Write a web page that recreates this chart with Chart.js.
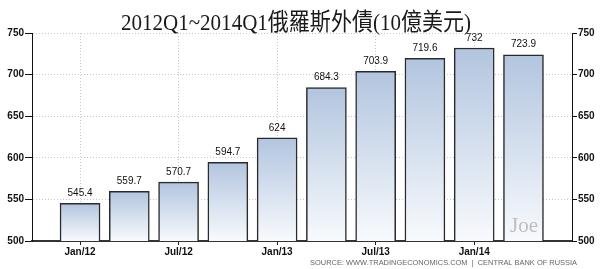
<!DOCTYPE html>
<html>
<head>
<meta charset="utf-8">
<script src="https://cdn.jsdelivr.net/npm/chart.js@4"></script>
<style>
  body { margin: 0; background: #fff; }
</style>
</head>
<body>
<canvas id="debtChart" width="600" height="269"></canvas>
<script>
const quarters = ['2012Q1', '2012Q2', '2012Q3', '2012Q4', '2013Q1', '2013Q2', '2013Q3', '2013Q4', '2014Q1', '2014Q2'];
const debtValues = [545.4, 559.7, 570.7, 594.7, 624, 684.3, 703.9, 719.6, 732, 723.9];
const tickPositions = [0, 2, 4, 6, 8];
const tickLabels = ['Jan/12', 'Jul/12', 'Jan/13', 'Jul/13', 'Jan/14'];
const titleText = '2012Q1~2014Q1俄羅斯外債(10億美元)';
const sourceText = 'SOURCE: WWW.TRADINGECONOMICS.COM  |  CENTRAL BANK OF RUSSIA';

const tickFont = { family: '"Liberation Sans", Arial, sans-serif', size: 10, weight: 'bold' };

const barGradient = (context) => {
    const chart = context.chart;
    const area = chart.chartArea;
    if (!area || context.raw == null) return '#c8d6e8';
    const top = chart.scales.y.getPixelForValue(context.raw.y);
    const g = chart.ctx.createLinearGradient(0, top, 0, area.bottom);
    g.addColorStop(0, '#b2c5df');
    g.addColorStop(1, '#f8fafd');
    return g;
};

const extras = {
    id: 'extras',
    afterDatasetsDraw(chart) {
        const ctx = chart.ctx;
        ctx.save();
        // value labels
        ctx.fillStyle = '#111';
        ctx.font = '10px "Liberation Sans", Arial, sans-serif';
        ctx.textAlign = 'center';
        ctx.textBaseline = 'middle';
        chart.getDatasetMeta(0).data.forEach((bar, i) => {
            ctx.fillText(String(debtValues[i]), bar.x, bar.y - 10);
        });
        // watermark
        ctx.fillStyle = '#bdbdbd';
        ctx.font = '21px "Liberation Serif", serif';
        ctx.fillText('Joe', 524, 226);
        ctx.restore();
    },
    afterDraw(chart) {
        const ctx = chart.ctx;
        ctx.save();
        // title
        ctx.fillStyle = '#1a1a1a';
        ctx.font = '24px "Liberation Serif", "Noto Sans CJK TC", serif';
        ctx.textAlign = 'center';
        ctx.textBaseline = 'alphabetic';
        const w = ctx.measureText(titleText).width;
        ctx.translate(296, 30);
        ctx.scale(Math.min(1, 350 / w), 1);
        ctx.fillText(titleText, 0, 0);
        ctx.restore();
        // source line
        ctx.save();
        ctx.fillStyle = '#666';
        ctx.font = '7.5px "Liberation Sans", Arial, sans-serif';
        ctx.textAlign = 'right';
        ctx.textBaseline = 'middle';
        const sw = ctx.measureText(sourceText).width;
        ctx.translate(577, 263);
        ctx.scale(267 / sw, 1);
        ctx.fillText(sourceText, 0, 0);
        ctx.restore();
    }
};

new Chart(document.getElementById('debtChart'), {
    type: 'bar',
    data: {
        labels: quarters,
        datasets: [{
            label: 'External debt',
            data: debtValues.map((v, i) => ({ x: i, y: v })),
            backgroundColor: barGradient,
            borderColor: '#2a2a2a',
            borderWidth: 1.5,
            barThickness: 40
        }]
    },
    options: {
        responsive: false,
        animation: false,
        layout: { padding: { top: 33, left: 0, right: 0, bottom: 0 } },
        plugins: {
            legend: { display: false },
            tooltip: { enabled: false }
        },
        scales: {
            x: {
                type: 'linear',
                offset: false,
                min: -0.975,
                max: 9.985,
                afterBuildTicks: (scale) => {
                    scale.ticks = tickPositions.map(v => ({ value: v }));
                },
                afterFit: (scale) => { scale.height = 28; },
                ticks: {
                    font: tickFont,
                    color: '#111',
                    padding: 1,
                    maxRotation: 0,
                    autoSkip: false,
                    callback: (v) => tickLabels[tickPositions.indexOf(v)]
                },
                grid: {
                    offset: false,
                    color: '#c8c8c8',
                    tickColor: '#222',
                    tickLength: 4
                },
                border: { color: '#333', width: 2, dash: [1, 2] }
            },
            y: {
                position: 'left',
                min: 500,
                max: 750,
                afterFit: (scale) => { scale.width = 32; },
                ticks: { stepSize: 50, font: tickFont, color: '#111', padding: 1 },
                grid: {
                    color: '#c8c8c8',
                    tickColor: '#111',
                    tickLength: 7
                },
                border: { color: '#111', width: 1, dash: [1, 2] }
            },
            y2: {
                position: 'right',
                min: 500,
                max: 750,
                afterFit: (scale) => { scale.width = 28; },
                ticks: { stepSize: 50, font: tickFont, color: '#111', padding: 1 },
                grid: {
                    drawOnChartArea: false,
                    tickColor: '#111',
                    tickLength: 5
                },
                border: { color: '#111', width: 1 }
            }
        }
    },
    plugins: [extras]
});
</script>
</body>
</html>
